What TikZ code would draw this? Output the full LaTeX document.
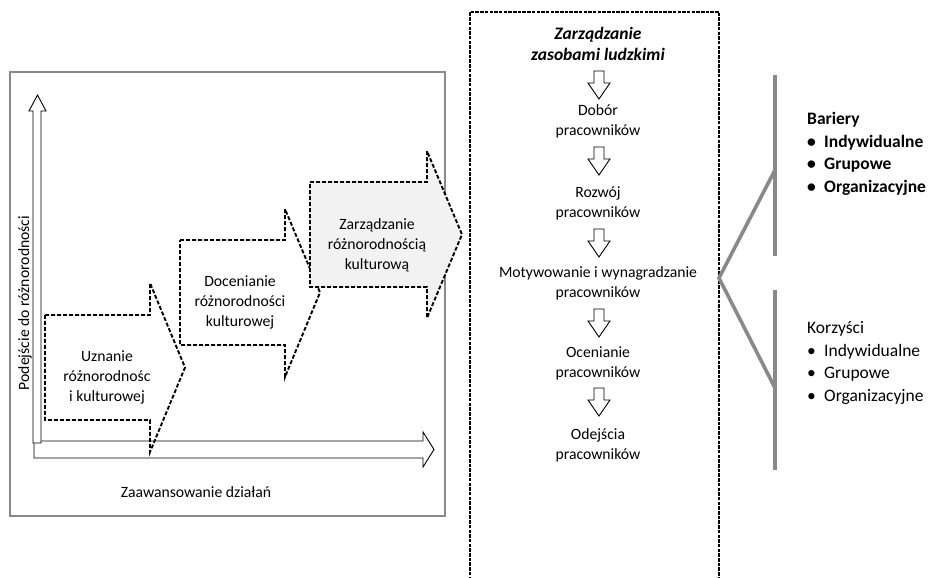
\documentclass[tikz,border=0pt]{standalone}
\usepackage{fontspec}
\setmainfont{Carlito}
\definecolor{framegray}{RGB}{137,137,137}
\definecolor{stepfill}{RGB}{242,242,242}

\begin{document}
\begin{tikzpicture}[x = 1pt, y = -1pt,
		axisarrow/.style = {draw, line width = 0.9pt, fill = white},
		stepshape/.style = {draw, line width = 1.9pt, dash pattern = on 4pt off 2pt},
		dashbox/.style = {draw, line width = 2.8pt, dash pattern = on 3.5pt off 1.2pt},
		greyline/.style = {framegray, line width = 3.6pt},
		txt/.style = {align = center, inner sep = 0pt, font = \fontsize{15.7}{20}\selectfont},
		listtxt/.style = {anchor = base west, inner sep = 0pt, font = \fontsize{17.5}{22.7}\selectfont}]
	\useasboundingbox (0,0) rectangle (930,578);
	
	% frame
	\draw[framegray, line width = 1.5pt] (10,72) rectangle (445,516);
	
	% axes
	\draw[axisarrow] (34,441) -- (423,441) -- (423,432) -- (434,449.5) -- (423,467) -- (423,458) -- (34,458) -- cycle;
	\draw[axisarrow] (33,443) -- (33,111) -- (29,111) -- (37.5,95) -- (46,111) -- (41,111) -- (41,443) -- cycle;
	
	% steps
	\draw[stepshape] (45,315) -- (150,315) -- (150,283) -- (185,367.5) -- (150,452) -- (150,420) -- (45,420) -- cycle;
	\draw[stepshape] (180,240) -- (285,240) -- (285,209) -- (320,292.5) -- (285,377) -- (285,345) -- (180,345) -- cycle;
	\draw[stepshape, fill = stepfill] (310,182) -- (427,182) -- (427,151) -- (462,234.5) -- (427,318) -- (427,287) -- (310,287) -- cycle;
	
	% step labels
	\node[txt] (uznanie) at (107,377) {Uznanie\\różnorodnośc\\i kulturowej};
	\node[txt] (docenianie) at (240,302) {Docenianie\\różnorodności\\kulturowej};
	\node[txt] (zarzadzanie) at (377,245) {Zarządzanie\\różnorodnością\\kulturową};
	
	% axis labels
	\node[txt, rotate = 90] (podejscie) at (25,303) {Podejście do różnorodności};
	\node[txt] (zaawansowanie) at (196,492) {Zaawansowanie działań};
	
	% hrm box
	\draw[dashbox] (470,580) -- (470,12) -- (719,12) -- (719,580);
	\node[txt, font = \fontsize{17.5}{21}\selectfont\bfseries\itshape] (zzl) at (598,43.5) {Zarządzanie\\zasobami ludzkimi};
	\foreach \t in {71,147,229,309,388}
		\draw[axisarrow] (594,\t) -- (604,\t) -- (604,{\t+12}) -- (610,{\t+12}) -- (599,{\t+28}) -- (588,{\t+12}) -- (594,{\t+12}) -- cycle;
	\node[txt] (dobor) at (598,121.5) {Dobór\\pracowników};
	\node[txt] (rozwoj) at (598,203) {Rozwój\\pracowników};
	\node[txt] (motywowanie) at (598,283) {Motywowanie i wynagradzanie\\pracowników};
	\node[txt] (ocenianie) at (598,363) {Ocenianie\\pracowników};
	\node[txt] (odejscia) at (598,445) {Odejścia\\pracowników};
	
	% branches
	\coordinate (hub) at (719,278);
	\coordinate (bartop) at (775,170);
	\coordinate (barbot) at (775,388);
	\draw[greyline] (bartop) -- (hub) -- (barbot);
	\draw[greyline] (775,75) -- (775,256);
	\draw[greyline] (775,290) -- (775,470);
	
	% lists
	\node[listtxt, font = \fontsize{17.5}{22.7}\selectfont\bfseries] (bariery) at (807,124.5) {Bariery};
	\foreach \item [count = \i] in {Indywidualne, Grupowe, Organizacyjne}
		\node[listtxt, font = \fontsize{17.5}{22.7}\selectfont\bfseries] (bar\i) at (807,{124.5+\i*22.7}) {\makebox[17pt][l]{\textbullet}\item};
	\node[listtxt] (korzysci) at (807,333.5) {Korzyści};
	\foreach \item [count = \i] in {Indywidualne, Grupowe, Organizacyjne}
		\node[listtxt] (kor\i) at (807,{333.5+\i*22.7}) {\makebox[17pt][l]{\textbullet}\item};
	
\end{tikzpicture}
\end{document}
